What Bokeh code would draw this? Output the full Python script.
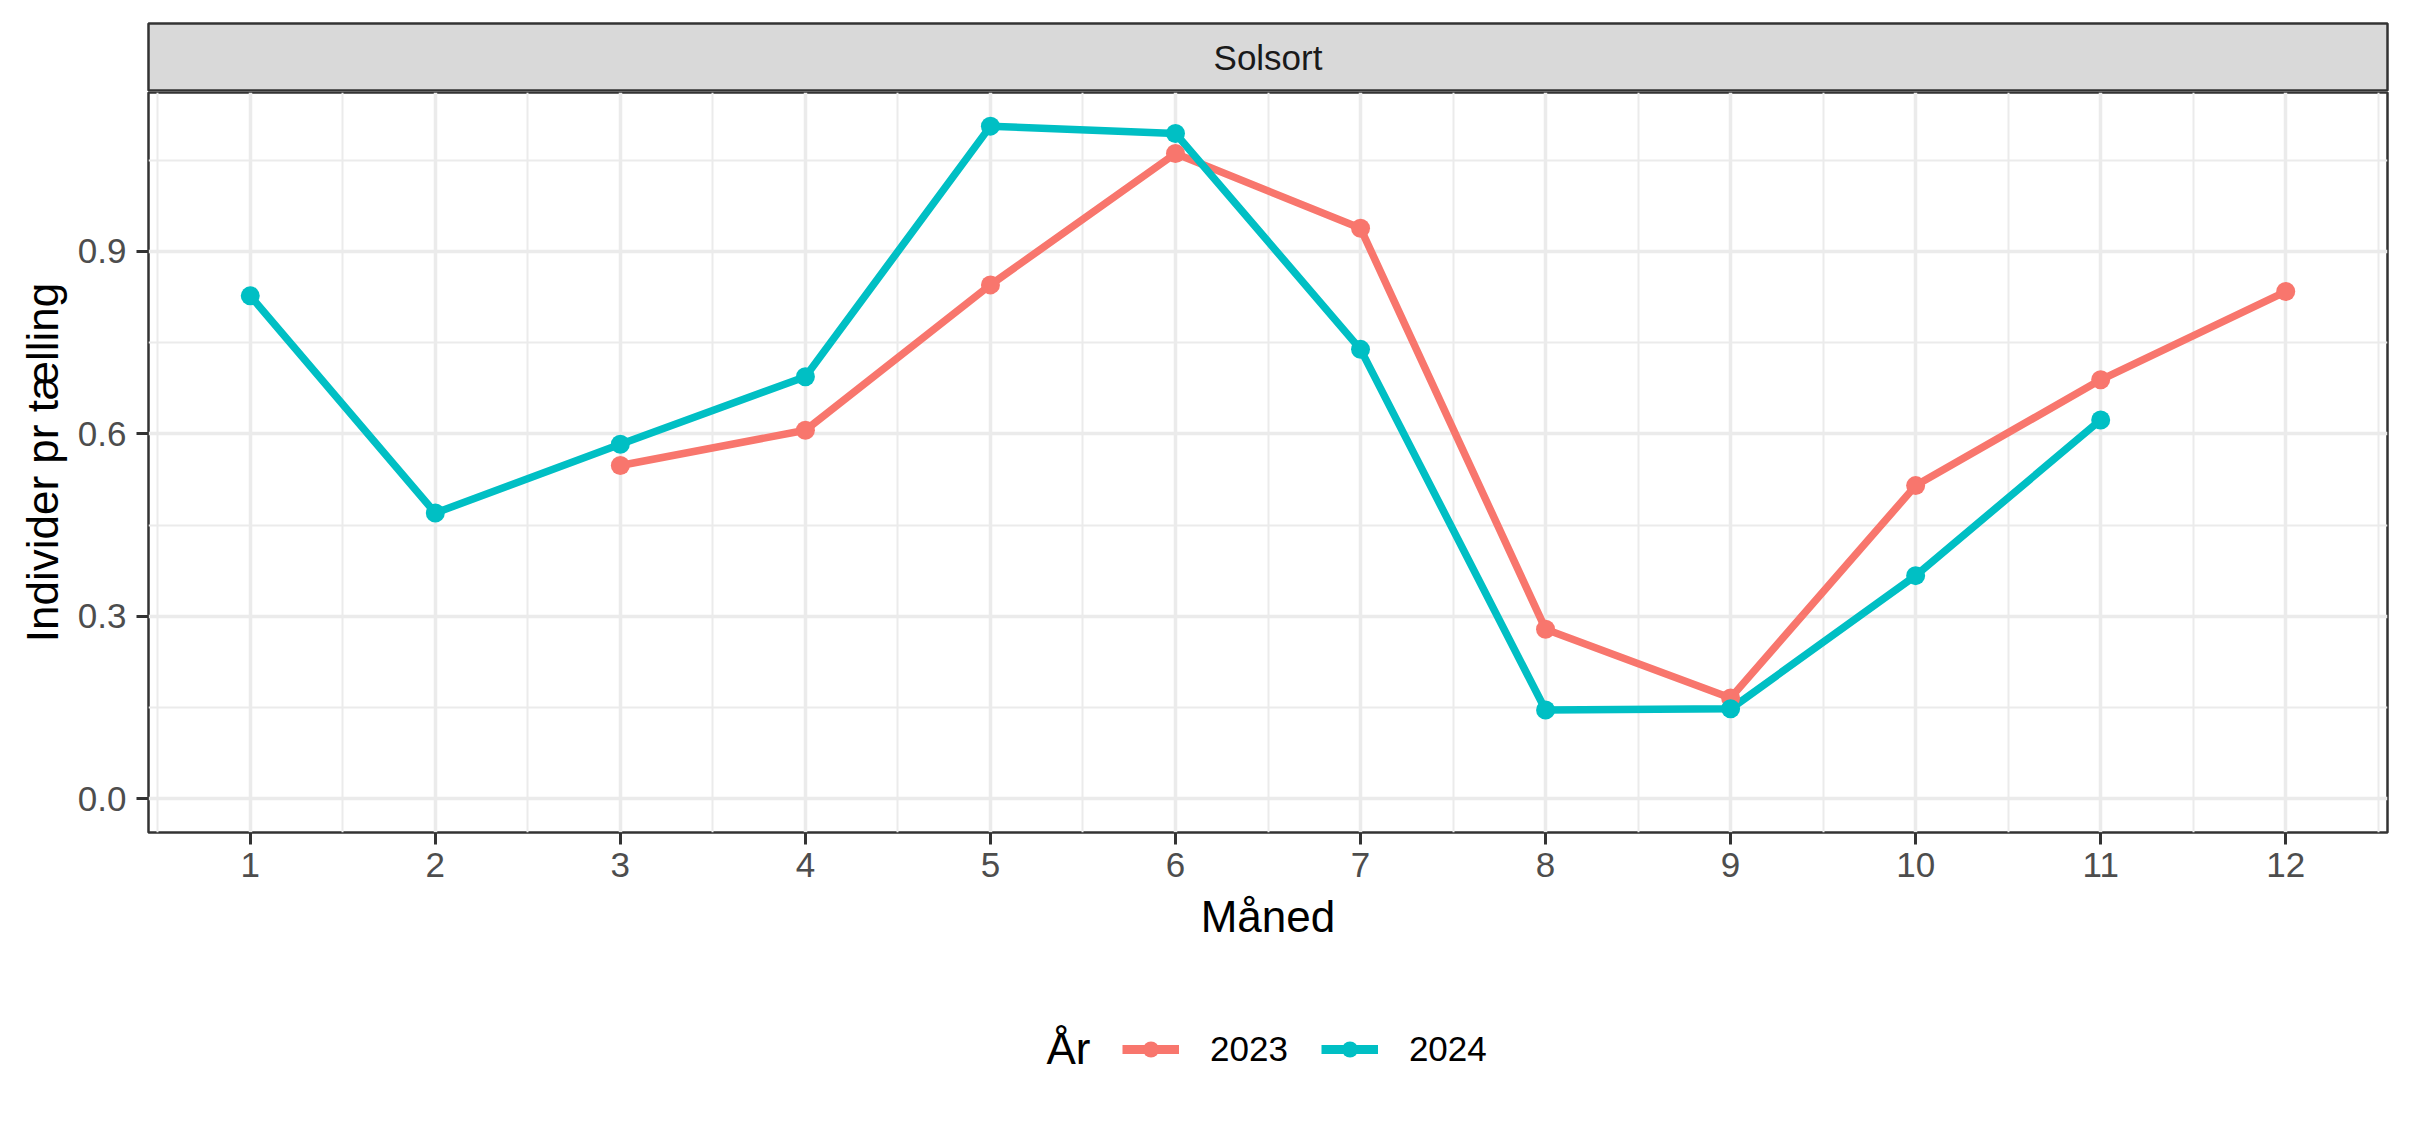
from bokeh.plotting import figure
from bokeh.models import Range1d, FixedTicker, Legend, LegendItem, Label
from bokeh.layouts import column
from bokeh.embed import file_html
from bokeh.resources import INLINE

# ---- data ----
panel_title = "Solsort"
series_names = ["2023", "2024"]
months_2023 = [3, 4, 5, 6, 7, 8, 9, 10, 11, 12]
values_2023 = [0.548, 0.606, 0.845, 1.061, 0.938, 0.279, 0.166, 0.515, 0.689, 0.834]
months_2024 = [1, 2, 3, 4, 5, 6, 7, 8, 9, 10, 11]
values_2024 = [0.827, 0.470, 0.583, 0.694, 1.106, 1.094, 0.739, 0.146, 0.148, 0.367, 0.623]
x_ticks = [1, 2, 3, 4, 5, 6, 7, 8, 9, 10, 11, 12]
x_tick_labels = [str(m) for m in x_ticks]
x_minor = [0.5, 1.5, 2.5, 3.5, 4.5, 5.5, 6.5, 7.5, 8.5, 9.5, 10.5, 11.5, 12.5]
y_ticks = [0.0, 0.3, 0.6, 0.9]
y_tick_labels = ["0.0", "0.3", "0.6", "0.9"]
y_minor = [0.15, 0.45, 0.75, 1.05]
x_title = "Måned"
y_title = "Individer pr tælling"
legend_title = "År"

COLORS = ["#F8766D", "#00BFC4"]
FONT = "Liberation Sans"
W = 2412
STRIP_H = 91
MAIN_H = 891
LEG_H = 1128 - STRIP_H - MAIN_H
LEFT = 148
RIGHT = 25
X_RANGE = (0.45, 12.55)

# ---- strip ----
strip = figure(width=W, height=STRIP_H, output_backend="svg", toolbar_location=None,
               x_range=Range1d(0, 1), y_range=Range1d(0, 1),
               x_axis_location=None, y_axis_location=None,
               min_border_left=LEFT, min_border_right=RIGHT,
               min_border_top=23, min_border_bottom=0)
strip.background_fill_color = "#d9d9d9"
strip.border_fill_color = "white"
strip.outline_line_color = "#333333"
strip.outline_line_width = 2.5
strip.grid.visible = False
strip.add_layout(Label(x=0.5, y=0.5, text=panel_title, text_align="center",
                       text_baseline="middle", text_font_size="35px",
                       text_color="#1a1a1a", text_font=FONT))

# ---- main panel ----
ymin, ymax = 0.0, max(values_2023 + values_2024)
ypad = (ymax - ymin) * 0.05
p = figure(width=W, height=MAIN_H, output_backend="svg", toolbar_location=None,
           x_range=Range1d(*X_RANGE), y_range=Range1d(ymin - ypad, ymax + ypad),
           min_border_left=LEFT, min_border_right=RIGHT,
           min_border_top=1, min_border_bottom=150)
p.background_fill_color = "white"
p.border_fill_color = "white"
p.outline_line_color = "#333333"
p.outline_line_width = 2.5

xt = FixedTicker(ticks=x_ticks, minor_ticks=x_minor)
yt = FixedTicker(ticks=y_ticks, minor_ticks=y_minor)
p.xaxis.ticker = xt
p.yaxis.ticker = yt
p.xgrid.ticker = xt
p.ygrid.ticker = yt
p.xaxis.major_label_overrides = {t: l for t, l in zip(x_ticks, x_tick_labels)}
p.yaxis.major_label_overrides = {t: l for t, l in zip(y_ticks, y_tick_labels)}

for g in (p.xgrid, p.ygrid):
    g.grid_line_color = "#ebebeb"
    g.grid_line_width = 3.5
    g.minor_grid_line_color = "#ebebeb"
    g.minor_grid_line_width = 2

for ax in (p.xaxis, p.yaxis):
    ax.axis_line_color = None
    ax.major_tick_line_color = "#333333"
    ax.major_tick_line_width = 3
    ax.major_tick_out = 12
    ax.major_tick_in = 0
    ax.minor_tick_out = 0
    ax.minor_tick_in = 0
    ax.major_label_text_font = FONT
    ax.major_label_text_font_size = "35px"
    ax.major_label_text_color = "#4d4d4d"
    ax.axis_label_text_font = FONT
    ax.axis_label_text_font_size = "44px"
    ax.axis_label_text_font_style = "normal"
    ax.axis_label_text_color = "black"

p.xaxis.axis_label = x_title
p.yaxis.axis_label = y_title
p.xaxis.major_label_standoff = 8
p.xaxis.axis_label_standoff = 12
p.yaxis.major_label_standoff = 10
p.yaxis.axis_label_standoff = 8

p.line(months_2023, values_2023, line_color=COLORS[0], line_width=7.5)
p.line(months_2024, values_2024, line_color=COLORS[1], line_width=7.5)
p.scatter(months_2023, values_2023, size=19, fill_color=COLORS[0], line_color=None)
p.scatter(months_2024, values_2024, size=19, fill_color=COLORS[1], line_color=None)

# ---- legend strip (its own frame; series drawn outside its view, only keys show) ----
leg = figure(width=W, height=LEG_H, output_backend="svg", toolbar_location=None,
             x_range=Range1d(*X_RANGE), y_range=Range1d(10, 11),
             x_axis_location=None, y_axis_location=None,
             min_border_left=LEFT, min_border_right=RIGHT,
             min_border_top=0, min_border_bottom=0)
leg.outline_line_color = None
leg.grid.visible = False
leg.background_fill_color = "white"
leg.border_fill_color = "white"
kl1 = leg.line(months_2023, values_2023, line_color=COLORS[0], line_width=9)
kl2 = leg.line(months_2024, values_2024, line_color=COLORS[1], line_width=9)
kc1 = leg.scatter(months_2023, values_2023, size=19, fill_color=COLORS[0], line_color=None)
kc2 = leg.scatter(months_2024, values_2024, size=19, fill_color=COLORS[1], line_color=None)

legend = Legend(items=[LegendItem(label=series_names[0], renderers=[kl1, kc1]),
                       LegendItem(label=series_names[1], renderers=[kl2, kc2])],
                orientation="horizontal", location=(974, LEG_H - 87))
legend.label_text_font = FONT
legend.label_text_font_size = "35px"
legend.label_text_color = "black"
legend.glyph_width = 57
legend.glyph_height = 40
legend.label_standoff = 31
legend.spacing = 33
legend.padding = 0
legend.margin = 0
legend.border_line_color = None
legend.background_fill_alpha = 0
leg.add_layout(legend)

leg.add_layout(Label(x=898, y=LEG_H - 66, x_units="screen", y_units="screen",
                     text=legend_title, text_align="left", text_baseline="middle",
                     text_font=FONT, text_font_size="44px", text_color="black"))

layout = column(strip, p, leg, spacing=0)
open("out.html", "w").write(file_html(layout, INLINE))
